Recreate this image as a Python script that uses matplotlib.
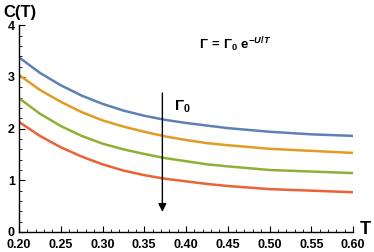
import matplotlib
matplotlib.use("Agg")
import matplotlib.pyplot as plt
from matplotlib.ticker import MultipleLocator, FormatStrFormatter

plt.rcParams['font.family'] = ['Liberation Sans', 'DejaVu Sans']
plt.rcParams['font.weight'] = 'bold'
plt.rcParams['mathtext.fontset'] = 'custom'
plt.rcParams['mathtext.rm'] = 'Liberation Sans:bold'
plt.rcParams['mathtext.bf'] = 'Liberation Sans:bold'
plt.rcParams['mathtext.it'] = 'Liberation Sans:bold:italic'

T = [0.20, 0.225, 0.25, 0.275, 0.30, 0.325, 0.35, 0.375, 0.40, 0.425, 0.45, 0.50, 0.55, 0.60]
c_blue = [3.38, 3.08, 2.84, 2.64, 2.48, 2.35, 2.25, 2.17, 2.11, 2.06, 2.01, 1.94, 1.89, 1.86]
c_orange = [3.04, 2.75, 2.52, 2.32, 2.16, 2.04, 1.94, 1.85, 1.78, 1.72, 1.68, 1.61, 1.57, 1.53]
c_green = [2.59, 2.29, 2.05, 1.86, 1.71, 1.60, 1.51, 1.43, 1.37, 1.31, 1.27, 1.20, 1.17, 1.14]
c_red = [2.13, 1.86, 1.64, 1.46, 1.31, 1.19, 1.10, 1.03, 0.98, 0.93, 0.89, 0.83, 0.80, 0.77]
series = [c_blue, c_orange, c_green, c_red]
colors = ['#5E81B5', '#E19C24', '#8FB032', '#EB6235']

fig = plt.figure(figsize=(3.74, 2.52), dpi=100)
ax = fig.add_axes([19/374, 20/252, 334/374, 206.7/252])

for y, c in zip(series, colors):
    ax.plot(T, y, color=c, lw=1.8, solid_capstyle='round', solid_joinstyle='round')

ax.set_xlim(0.20, 0.60)
ax.set_ylim(0, 4)
ax.spines['top'].set_visible(False)
ax.spines['right'].set_visible(False)
for s in ['left', 'bottom']:
    ax.spines[s].set_linewidth(1.0)

ax.xaxis.set_major_locator(MultipleLocator(0.05))
ax.xaxis.set_minor_locator(MultipleLocator(0.01))
ax.yaxis.set_major_locator(MultipleLocator(1))
ax.yaxis.set_minor_locator(MultipleLocator(0.2))
ax.xaxis.set_major_formatter(FormatStrFormatter('%.2f'))
ax.tick_params(which='major', direction='in', length=4, width=0.8, labelsize=9)
ax.tick_params(axis='x', which='major', pad=5)
ax.tick_params(axis='y', which='major', pad=3)
ax.tick_params(which='minor', direction='in', length=2, width=0.6)
for lab in ax.get_xticklabels() + ax.get_yticklabels():
    lab.set_fontweight('bold')

# arrow
ax.annotate('', xy=(0.3717, 0.39), xytext=(0.3717, 2.69),
            arrowprops=dict(arrowstyle='-|>', color='black', lw=1.0,
                            mutation_scale=12, shrinkA=0, shrinkB=0))
ax.text(0.3855, 2.42, r'$\Gamma_0$', fontsize=11, ha='left', va='center')
ax.text(0.416, 3.62, r'$\Gamma\,=\,\Gamma_0\ \mathrm{e}^{-U/T}$', fontsize=9.5,
        ha='left', va='center')

fig.text(3/374, 1 - 12/252, 'C(T)', fontsize=12, fontweight='bold', ha='left', va='center')
fig.text(360/374, 1 - 230/252, 'T', fontsize=13, fontweight='bold', ha='left', va='center')

fig.savefig('out.png', dpi=100)
